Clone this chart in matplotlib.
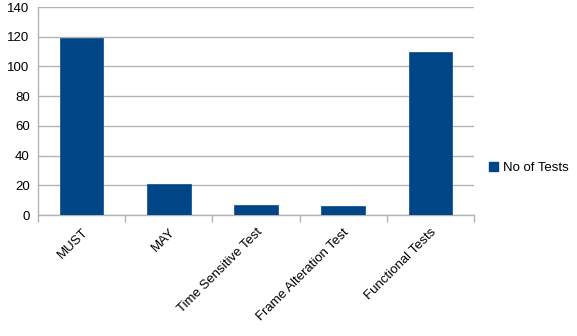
import matplotlib
matplotlib.use("Agg")
import matplotlib.pyplot as plt
from matplotlib.patches import Patch

categories = ["MUST", "MAY", "Time Sensitive Test", "Frame Alteration Test", "Functional Tests"]
values = [119, 21, 7, 6, 110]
series_name = "No of Tests"

plt.rcParams['font.family'] = ['Liberation Sans', 'DejaVu Sans']

fig = plt.figure(figsize=(5.77, 3.36), dpi=100)
ax = fig.add_axes([38/577, 1-215/336, (474-38)/577, (215-7)/336])

color = "#004586"
x = list(range(len(categories)))
ax.bar(x, values, width=0.5, color=color, edgecolor="#1a5a96", linewidth=0.6, zorder=3)

ax.set_xlim(-0.5, len(categories)-0.5)
ax.set_ylim(0, 140)
ax.set_yticks(range(0, 141, 20))
ax.yaxis.grid(True, color="#b3b3b3", linewidth=1, zorder=0)
ax.tick_params(axis='y', length=0, labelsize=9.5, pad=6)

ax.set_xticks([i - 0.5 for i in range(len(categories)+1)])
ax.set_xticklabels([])
ax.set_xticks(x, minor=True)
ax.set_xticklabels(categories, minor=True, rotation=45, ha='right', rotation_mode='anchor', fontsize=9.5)
ax.tick_params(axis='x', which='major', length=5, color="#b3b3b3", width=1)
ax.tick_params(axis='x', which='minor', length=0, pad=8)

for s in ['top', 'right']:
    ax.spines[s].set_visible(False)
for s in ['left', 'bottom']:
    ax.spines[s].set_color("#b3b3b3")
    ax.spines[s].set_linewidth(1)

handles = [Patch(facecolor=color, edgecolor=color, label=series_name)]
fig.legend(handles=handles, loc='center left', bbox_to_anchor=(477/577, 1-168/336),
           frameon=False, fontsize=9.5, handlelength=0.7, handleheight=0.7, handletextpad=0.4)

fig.savefig("out.png", dpi=100)
